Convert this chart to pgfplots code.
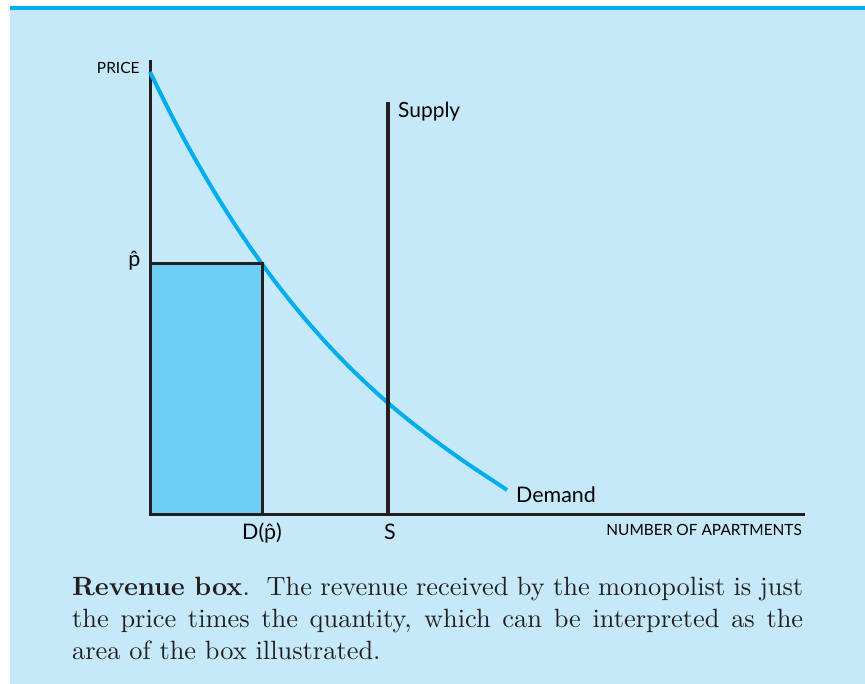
\documentclass[border=0pt]{standalone}
\usepackage{fontspec}
\setsansfont{Lato}
\newfontfamily\capfont{lmroman10-regular}[Extension=.otf, BoldFont=lmroman10-bold]
\usepackage{pgfplots}
\pgfplotsset{compat=1.18}
\definecolor{bg}{HTML}{C6E9F9}
\definecolor{topline}{HTML}{00AEEF}
\definecolor{demand}{HTML}{00AEEF}
\definecolor{boxfill}{HTML}{6DCFF6}
\definecolor{ink}{HTML}{231F20}
\begin{document}
\begin{tikzpicture}[x=1bp,y=1bp]
\fill[white] (0,0) rectangle (865,684);
\fill[bg] (10,0) rectangle (865,674);
\fill[topline] (10,674) rectangle (865,678);
\begin{axis}[
  at={(150bp,169bp)}, anchor=origin,
  scale only axis, width=655bp, height=455bp,
  xmin=0, xmax=655, ymin=0, ymax=455,
  axis x line=bottom, axis y line=left,
  axis line style={-, draw=ink, line width=3bp},
  xtick=\empty, ytick=\empty, clip=false,
  every node/.style={text=ink, font=\sffamily},
]
\addplot[demand, line width=4bp, smooth] coordinates {
  (0,443) (20,402.6) (40,365.1) (60,330.3) (80,297.9) (100,268.0)
  (120,240.1) (140,214.3) (160,190.3) (180,168.0) (200,147.3)
  (220,128.2) (240,110.3) (260,93.8) (280,78.3) (300,63.5)
  (320,49.5) (340,36.3) (357,25)};
\addplot[ink, line width=4bp] coordinates {(238,0) (238,413)};
\addplot[fill=boxfill, draw=ink, line width=3bp] coordinates {(0,0) (0,251) (112,251) (112,0)} -- cycle;
\node[anchor=east, font=\sffamily\fontsize{15.5}{18}\selectfont] at (-7,447) {PRICE};
\node[anchor=mid east, font=\sffamily\fontsize{21.5}{24}\selectfont] at (-6,251) {\^{p}};
\node[anchor=base, font=\sffamily\fontsize{21.5}{24}\selectfont] at (112,-25) {D(\^{p})};
\node[anchor=base, font=\sffamily\fontsize{21.5}{24}\selectfont] at (240,-25) {S};
\node[anchor=base east, inner sep=0, font=\sffamily\fontsize{15.5}{18}\selectfont] at (652,-21) {NUMBER OF APARTMENTS};
\node[anchor=base west, inner sep=0, font=\sffamily\fontsize{21}{24}\selectfont] at (248,397) {Supply};
\node[anchor=base west, inner sep=0, font=\sffamily\fontsize{21.5}{24}\selectfont] at (366,12) {Demand};
\end{axis}
\node[anchor=base west, inner sep=0, text=ink] at (72,88) {\begin{minipage}[t]{731bp}\capfont\fontsize{26.5}{32}\selectfont
\textbf{Revenue box}.\ \ The revenue received by the monopolist is just\linebreak
the price times the quantity, which can be interpreted as the\linebreak
area of the box illustrated.\end{minipage}};
\end{tikzpicture}
\end{document}
